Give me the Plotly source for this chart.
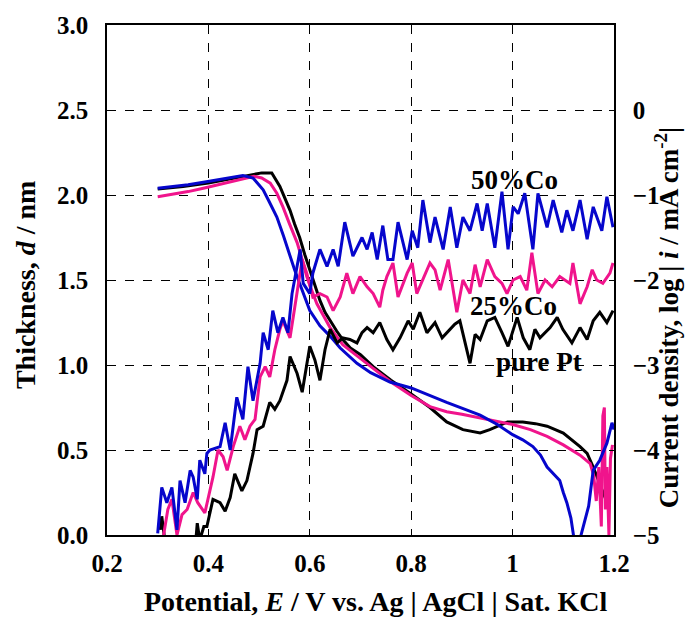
import plotly.graph_objects as go

# ---------------- data ----------------
# Thickness d / nm (left axis)
pt_d_x = [0.30, 0.35, 0.40, 0.45, 0.48, 0.505, 0.525, 0.541, 0.551, 0.561, 0.57, 0.58, 0.59, 0.60, 0.61,
          0.62, 0.63, 0.64, 0.653, 0.665, 0.68, 0.70, 0.725, 0.76, 0.80, 0.837, 0.87, 0.902, 0.936, 0.955,
          0.99, 1.02, 1.045, 1.068, 1.10, 1.133, 1.147, 1.159, 1.168, 1.178, 1.185, 1.19]
pt_d_y = [2.035, 2.05, 2.07, 2.10, 2.115, 2.13, 2.13, 2.05, 1.98, 1.91, 1.83, 1.75, 1.65, 1.56, 1.47,
          1.38, 1.31, 1.26, 1.20, 1.15, 1.10, 1.06, 0.99, 0.91, 0.83, 0.75, 0.665, 0.62, 0.60, 0.62,
          0.665, 0.665, 0.655, 0.64, 0.60, 0.52, 0.48, 0.40, 0.33, 0.26, 0.20, 0.15]

co25_d_x = [0.30, 0.33, 0.36, 0.39, 0.42, 0.45, 0.476, 0.49, 0.505, 0.522, 0.535, 0.547, 0.56, 0.575,
            0.585, 0.594, 0.605, 0.614, 0.627, 0.64, 0.665, 0.69, 0.725, 0.76, 0.80, 0.837, 0.87, 0.90,
            0.936, 0.97, 1.0, 1.035, 1.068, 1.10, 1.133, 1.153, 1.16, 1.165, 1.17, 1.175, 1.178, 1.181,
            1.183, 1.186, 1.19, 1.193, 1.197]
co25_d_y = [1.99, 2.005, 2.02, 2.04, 2.06, 2.08, 2.10, 2.11, 2.10, 2.07, 2.01, 1.93, 1.83, 1.72,
            1.62, 1.52, 1.43, 1.36, 1.29, 1.22, 1.12, 1.06, 0.98, 0.90, 0.82, 0.755, 0.725, 0.71,
            0.69, 0.67, 0.65, 0.62, 0.58, 0.53, 0.47, 0.42, 0.35, 0.20, 0.40, 0.05, 0.70, 0.75,
            0.15, 0.40, 0.0, 0.45, 0.53]

co50_d_x = [0.30, 0.33, 0.36, 0.39, 0.42, 0.45, 0.468, 0.488, 0.508, 0.52, 0.535, 0.548, 0.561, 0.57,
            0.58, 0.59, 0.60, 0.62, 0.64, 0.66, 0.693, 0.72, 0.758, 0.80, 0.87, 0.936, 0.97, 1.0, 1.02,
            1.04, 1.055, 1.068, 1.08, 1.093, 1.10, 1.107, 1.115, 1.12, 1.125, 1.13, 1.135, 1.15, 1.159,
            1.172, 1.186, 1.196, 1.20]
co50_d_y = [2.04, 2.05, 2.06, 2.075, 2.09, 2.105, 2.115, 2.10, 2.03, 1.96, 1.87, 1.76, 1.64, 1.56,
            1.48, 1.40, 1.32, 1.23, 1.17, 1.10, 1.01, 0.955, 0.90, 0.865, 0.78, 0.705, 0.65, 0.59, 0.56,
            0.52, 0.47, 0.40, 0.36, 0.32, 0.25, 0.19, 0.10, 0.01, -0.10, -0.10, 0.0, 0.17, 0.38,
            0.44, 0.54, 0.66, 0.62]

# Current density log|i| / mA cm-2 (right axis)
co50_i_x = [0.300, 0.308, 0.318, 0.328, 0.338, 0.344, 0.354, 0.364, 0.370, 0.378, 0.383, 0.393, 0.397,
            0.403, 0.423, 0.433, 0.443, 0.456, 0.468, 0.478, 0.488, 0.502, 0.508, 0.518, 0.527, 0.537,
            0.547, 0.557, 0.565, 0.581, 0.587, 0.600, 0.606, 0.620, 0.634, 0.646, 0.656, 0.669, 0.685,
            0.703, 0.713, 0.723, 0.733, 0.744, 0.754, 0.764, 0.774, 0.792, 0.802, 0.813, 0.823, 0.837,
            0.847, 0.863, 0.877, 0.890, 0.902, 0.916, 0.930, 0.940, 0.950, 0.965, 0.979, 0.991, 1.001,
            1.011, 1.024, 1.040, 1.050, 1.068, 1.080, 1.097, 1.107, 1.119, 1.133, 1.147, 1.159, 1.176,
            1.186, 1.198]
co50_i_y = [-4.98, -4.44, -4.62, -4.44, -4.94, -4.36, -4.62, -4.24, -4.32, -4.58, -4.12, -4.28, -4.04,
            -4.00, -3.96, -3.68, -4.00, -3.38, -3.64, -3.02, -3.42, -2.98, -2.62, -2.82, -2.36, -2.62,
            -2.44, -2.62, -2.16, -1.64, -2.04, -2.16, -1.92, -1.64, -1.84, -1.64, -1.84, -1.32, -1.72,
            -1.50, -1.64, -1.44, -1.76, -1.36, -1.76, -1.76, -1.32, -1.76, -1.42, -1.62, -1.06, -1.56,
            -1.26, -1.64, -1.14, -1.62, -1.26, -1.42, -1.10, -1.42, -1.10, -1.62, -0.96, -1.64, -1.14,
            -1.22, -0.98, -1.64, -0.98, -1.38, -1.06, -1.44, -1.18, -1.42, -1.06, -1.52, -1.14, -1.42,
            -1.02, -1.38]

co25_i_x = [0.310, 0.320, 0.328, 0.338, 0.348, 0.358, 0.370, 0.379, 0.393, 0.399, 0.409, 0.419, 0.429,
            0.437, 0.449, 0.462, 0.472, 0.482, 0.492, 0.502, 0.512, 0.521, 0.531, 0.541, 0.547, 0.561,
            0.575, 0.585, 0.594, 0.606, 0.620, 0.634, 0.646, 0.660, 0.673, 0.685, 0.699, 0.713, 0.725,
            0.738, 0.744, 0.752, 0.764, 0.774, 0.792, 0.802, 0.811, 0.823, 0.837, 0.847, 0.857, 0.873,
            0.890, 0.902, 0.916, 0.926, 0.936, 0.950, 0.965, 0.979, 0.989, 1.001, 1.015, 1.028, 1.038,
            1.050, 1.064, 1.078, 1.093, 1.113, 1.119, 1.133, 1.147, 1.157, 1.166, 1.178, 1.192, 1.198]
co25_i_y = [-5.06, -4.70, -4.58, -5.00, -4.76, -4.70, -4.50, -4.62, -4.74, -4.58, -4.32, -4.00, -4.08,
            -4.24, -3.96, -3.72, -3.88, -3.72, -3.64, -3.14, -3.02, -3.14, -2.82, -2.58, -2.48, -2.68,
            -2.16, -1.76, -1.92, -2.20, -2.16, -2.20, -2.36, -2.20, -1.92, -2.16, -1.96, -2.08, -2.16,
            -2.32, -2.12, -1.96, -1.80, -2.20, -1.92, -1.80, -2.16, -2.00, -1.80, -1.88, -2.12, -1.76,
            -2.38, -2.00, -2.16, -1.82, -2.08, -1.76, -1.96, -2.04, -2.16, -2.00, -1.96, -2.12, -1.68,
            -2.16, -2.00, -2.08, -1.96, -2.04, -1.80, -2.28, -2.08, -1.88, -2.00, -2.04, -1.92, -1.80]

pt_i_x = [0.305, 0.308, 0.314, 0.330, 0.372, 0.378, 0.383, 0.391, 0.397, 0.409, 0.423, 0.433, 0.443,
          0.452, 0.466, 0.476, 0.482, 0.488, 0.496, 0.508, 0.521, 0.531, 0.541, 0.555, 0.561, 0.575,
          0.585, 0.594, 0.600, 0.610, 0.620, 0.630, 0.640, 0.654, 0.665, 0.679, 0.693, 0.703, 0.713,
          0.725, 0.738, 0.752, 0.764, 0.778, 0.794, 0.804, 0.817, 0.831, 0.847, 0.861, 0.877, 0.886,
          0.896, 0.910, 0.916, 0.926, 0.936, 0.950, 0.965, 0.979, 0.991, 1.009, 1.021, 1.034, 1.044,
          1.054, 1.074, 1.088, 1.099, 1.117, 1.133, 1.147, 1.159, 1.172, 1.186, 1.198]
pt_i_y = [-4.94, -4.78, -5.06, -5.30, -5.30, -4.86, -5.06, -4.90, -4.90, -4.58, -4.62, -4.72, -4.56,
          -4.28, -4.48, -4.36, -4.20, -4.04, -3.76, -3.72, -3.44, -3.52, -3.42, -3.18, -2.90, -3.10,
          -3.32, -2.98, -2.78, -2.94, -3.18, -2.82, -2.58, -2.74, -2.68, -2.70, -2.74, -2.62, -2.56,
          -2.62, -2.50, -2.70, -2.82, -2.68, -2.48, -2.58, -2.38, -2.62, -2.50, -2.68, -2.58, -2.52,
          -2.48, -2.82, -2.98, -2.64, -2.70, -2.48, -2.44, -2.62, -2.78, -2.44, -2.68, -2.82, -2.58,
          -2.68, -2.56, -2.44, -2.58, -2.74, -2.56, -2.70, -2.48, -2.38, -2.50, -2.36]

x_ticks = [0.2, 0.4, 0.6, 0.8, 1.0, 1.2]
x_tick_labels = ["0.2", "0.4", "0.6", "0.8", "1", "1.2"]
d_ticks = [0.0, 0.5, 1.0, 1.5, 2.0, 2.5, 3.0]
logi_ticks = [-5, -4, -3, -2, -1, 0]

labels = ["50%Co", "25%Co", "pure Pt"]
label_x = [1.003, 1.001, 1.052]
label_y = [2.09, 1.35, 1.02]

x_title = "Potential, <i>E</i> / V vs. Ag | AgCl | Sat. KCl"
y_title = "Thickness, <i>d</i> / nm"
y2_title = "Current density, log | <i>i</i> / mA cm<sup>-2</sup>|"

# ---------------- figure ----------------
BLUE = "#0606CC"
PINK = "#F0148C"
BLACK = "#000000"
FONT = "Liberation Serif, Times New Roman, serif"
LW = 3

fig = go.Figure()
fig.add_trace(go.Scatter(x=pt_i_x, y=pt_i_y, yaxis="y2", mode="lines",
                         line=dict(color=BLACK, width=LW), name="pure Pt log i"))
fig.add_trace(go.Scatter(x=co25_i_x, y=co25_i_y, yaxis="y2", mode="lines",
                         line=dict(color=PINK, width=LW), name="25%Co log i"))
fig.add_trace(go.Scatter(x=co50_i_x, y=co50_i_y, yaxis="y2", mode="lines",
                         line=dict(color=BLUE, width=LW), name="50%Co log i"))
fig.add_trace(go.Scatter(x=pt_d_x, y=pt_d_y, mode="lines",
                         line=dict(color=BLACK, width=LW), name="pure Pt d"))
fig.add_trace(go.Scatter(x=co25_d_x, y=co25_d_y, mode="lines",
                         line=dict(color=PINK, width=LW), name="25%Co d"))
fig.add_trace(go.Scatter(x=co50_d_x, y=co50_d_y, mode="lines",
                         line=dict(color=BLUE, width=LW), name="50%Co d"))

for t, lx, ly in zip(labels, label_x, label_y):
    fig.add_annotation(x=lx, y=ly, xref="x", yref="y", text=t, showarrow=False,
                       font=dict(family=FONT, size=27, color="black", weight="bold"))

TITLEFONT = dict(family=FONT, size=28, color="black", weight="bold")
# axis titles placed as annotations (offset like the original)
fig.add_annotation(x=0.529, y=0, xref="paper", yref="paper", text=x_title, showarrow=False,
                   xanchor="center", yanchor="middle", yshift=-66, font=TITLEFONT)
fig.add_annotation(x=-0.1617, y=0.49, xref="paper", yref="paper", text=y_title, showarrow=False,
                   textangle=-90, xanchor="center", yanchor="middle", font=TITLEFONT)
fig.add_annotation(x=1.1045, y=0.427, xref="paper", yref="paper", text=y2_title, showarrow=False,
                   textangle=-90, xanchor="center", yanchor="middle",
                   font=dict(family=FONT, size=27, color="black", weight="bold"))

TICKFONT = dict(family=FONT, size=25, color="black", weight="bold")

fig.update_layout(
    width=688, height=617,
    margin=dict(l=107, r=74, t=25, b=82),
    paper_bgcolor="white", plot_bgcolor="white",
    showlegend=False,
    font=dict(family=FONT, size=24, color="black", weight="bold"),
    xaxis=dict(range=[0.2, 1.2], tickvals=x_ticks, ticktext=x_tick_labels, tickfont=TICKFONT,
               showgrid=True, gridcolor="black", griddash="dash", gridwidth=1,
               showline=True, linecolor="black", linewidth=1.5, mirror=True,
               ticks="inside", ticklen=5, tickcolor="black", zeroline=False,
               ticklabelstandoff=5, automargin=False),
    yaxis=dict(range=[0, 3.0], tickvals=d_ticks, tickformat=".1f", tickfont=TICKFONT,
               showgrid=True, gridcolor="black", griddash="dash", gridwidth=1,
               showline=True, linecolor="black", linewidth=1.5, mirror=True,
               ticks="inside", ticklen=5, tickcolor="black", zeroline=False,
               ticklabelstandoff=12, automargin=False),
    yaxis2=dict(range=[-5, 1], tickvals=logi_ticks, overlaying="y", side="right", tickfont=TICKFONT,
                showgrid=False, showline=True, linecolor="black", linewidth=1.5,
                ticks="inside", ticklen=5, tickcolor="black", zeroline=False,
                ticklabelstandoff=12, automargin=False),
)

fig.write_html("out.html")
